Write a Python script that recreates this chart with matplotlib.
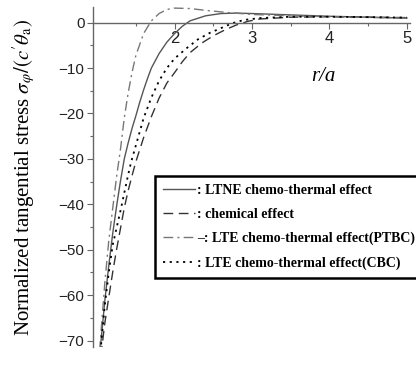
import numpy as np
import matplotlib
matplotlib.use('Agg')
import matplotlib.pyplot as plt

# values (r/a, normalized stress)
x_ltne = [1.00, 1.05, 1.10, 1.15, 1.20, 1.25, 1.30, 1.35, 1.40, 1.45, 1.50, 1.55, 1.60, 1.65,
          1.70, 1.80, 1.90, 2.00, 2.10, 2.20, 2.40, 2.60, 2.80, 3.00, 3.50, 4.00, 4.50, 5.00]
y_ltne = [-80, -70, -61, -53.5, -46.5, -40.5, -35, -30, -26.5, -23.3, -20.5, -17.5, -14.8, -12.3,
          -10, -6.8, -4.3, -2.4, -0.8, 0.4, 1.5, 2.0, 2.1, 2.0, 1.7, 1.4, 1.2, 1.0]

x_chem = [1.00, 1.05, 1.10, 1.15, 1.20, 1.25, 1.35, 1.40, 1.45, 1.50, 1.60, 1.70, 1.80, 1.90,
          2.00, 2.10, 2.20, 2.35, 2.50, 2.65, 2.80, 2.95, 3.10, 3.50, 4.00, 4.50, 5.00]
y_chem = [-84, -73, -66, -60.5, -55, -50, -40.8, -37, -33.7, -30.6, -25.3, -20.7, -16.6, -13.3,
          -11, -8.6, -6.6, -4.5, -2.9, -1.6, -0.5, 0.3, 0.8, 1.2, 1.3, 1.2, 1.1]

x_ptbc = [1.00, 1.05, 1.10, 1.15, 1.20, 1.25, 1.30, 1.35, 1.40, 1.45, 1.50, 1.60, 1.70, 1.80,
          1.90, 2.00, 2.20, 2.40, 2.70, 3.00, 3.50, 4.00, 4.50, 5.00]
y_ptbc = [-80, -68, -57, -48, -41, -34, -28, -21, -15.5, -11, -7.2, -2.4, 0.4, 2.0,
          2.9, 3.2, 3.1, 2.7, 2.2, 1.8, 1.5, 1.3, 1.15, 1.0]

x_cbc = [1.00, 1.05, 1.10, 1.15, 1.20, 1.30, 1.40, 1.44, 1.50, 1.60, 1.70, 1.80, 1.90, 2.00,
         2.15, 2.30, 2.45, 2.60, 2.75, 2.90, 3.10, 3.50, 4.00, 4.50, 5.00]
y_cbc = [-82, -71, -62, -55, -49, -41.5, -33.5, -30.6, -27, -21, -16.5, -12.8, -10, -7.9,
         -5.7, -3.7, -2.3, -1.2, -0.1, 0.6, 1.0, 1.3, 1.3, 1.2, 1.1]

labels = [': LTNE chemo-thermal effect', ': chemical effect',
          '\u2013: LTE chemo-thermal effect(PTBC)', ': LTE chemo-thermal effect(CBC)']

plt.rcParams['mathtext.fontset'] = 'stix'

fig = plt.figure(figsize=(4.16, 3.70), dpi=100)
ax = fig.add_axes([0.2224, 0.0622, 0.7632, 0.919])

l1, = ax.plot(x_ltne, y_ltne, '-', color='#555555', lw=1.0)
l2, = ax.plot(x_chem, y_chem, color='#333333', lw=1.0, dashes=(7, 4))
l3, = ax.plot(x_ptbc, y_ptbc, color='#777777', lw=1.0, dashes=(7, 3, 1.5, 3))
l4, = ax.plot(x_cbc, y_cbc, color='black', lw=1.3, dashes=(1.2, 2.5))

ax.set_xlim(0.94, 5.04)
ax.set_ylim(-71.4, 3.45)

ax.spines['top'].set_visible(False)
ax.spines['right'].set_visible(False)
ax.spines['bottom'].set_position(('data', 0))
for s in ['left', 'bottom']:
    ax.spines[s].set_color('#666666')
    ax.spines[s].set_linewidth(1.0)

ax.set_xticks([2, 3, 4, 5])
ax.set_xticks([1.5, 2.5, 3.5, 4.5], minor=True)
ax.set_yticks(np.arange(-70, 1, 10))
ax.set_yticks(np.arange(-65, 0, 10), minor=True)
ax.tick_params(which='major', length=4.3, width=0.8, color='#666666', pad=1.5)
ax.tick_params(which='minor', length=2.5, width=0.8, color='#666666')
ax.tick_params(axis='x', labelsize=12)
ax.tick_params(axis='y', labelsize=11)
for t in ax.get_xticklabels() + ax.get_yticklabels():
    t.set_fontfamily('Liberation Sans')
    t.set_color('#222222')

ax.text(3.92, -11.8, 'r/a', fontsize=15, fontstyle='italic',
        family='Liberation Serif', ha='center', va='center')

fig.text(0.058, 0.52,
         r'Normalized tangential stress $\sigma_{\varphi}/(c^{\prime}\theta_{\mathrm{a}})$',
         rotation=90, ha='center', va='center', fontsize=15, family='Liberation Serif')

leg = fig.legend([l1, l2, l3, l4], labels, loc='upper left',
                 bbox_to_anchor=(155 / 416, 1 - 176 / 370), borderaxespad=0,
                 prop={'family': 'Liberation Serif', 'weight': 'bold', 'size': 10},
                 handlelength=2.3, handletextpad=0.1, labelspacing=0.78,
                 borderpad=0.6, fancybox=False, framealpha=1)
leg.get_frame().set_edgecolor('black')
leg.get_frame().set_linewidth(1.8)

plt.savefig('out.png', dpi=100)
